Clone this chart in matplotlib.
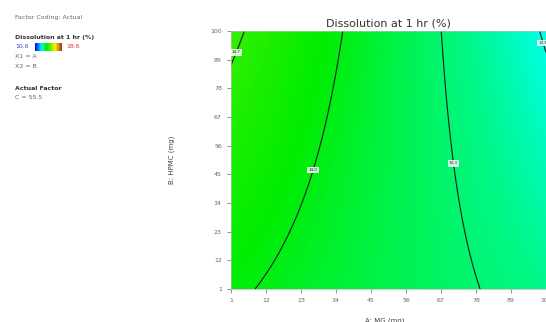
import numpy as np
import matplotlib.pyplot as plt
from matplotlib.colors import LinearSegmentedColormap, Normalize

# quadratic response surface, coded units (a, b in -1..1)
coef_names = ['const', 'A', 'B', 'AB', 'A^2', 'B^2']
coef = [13.63, -0.805, 0.045, -0.315, 0.0, 0.0]
levels = [12.6, 13.3, 14.0, 14.7]
a_ticks = [1, 12, 23, 34, 45, 56, 67, 78, 89, 100]
b_ticks = [1, 12, 23, 34, 45, 56, 67, 78, 89, 100]
resp_min, resp_max = 10.6, 18.6

cmap = LinearSegmentedColormap.from_list('de', [
    (0.00, (0.0, 0.0, 1.0)),
    (0.24, (0.0, 1.0, 0.94)),
    (0.31, (0.0, 0.97, 0.55)),
    (0.38, (0.0, 0.95, 0.27)),
    (0.44, (0.0, 0.93, 0.0)),
    (0.53, (0.22, 0.94, 0.0)),
    (0.75, (1.0, 0.95, 0.0)),
    (1.00, (0.65, 0.2, 0.08)),
])
norm = Normalize(resp_min, resp_max)

A = np.linspace(1, 100, 200)
B = np.linspace(1, 100, 200)
AA, BB = np.meshgrid(A, B)
a = (AA - 50.5) / 49.5
b = (BB - 50.5) / 49.5
Z = (coef[0] + coef[1] * a + coef[2] * b + coef[3] * a * b
     + coef[4] * a ** 2 + coef[5] * b ** 2)

W, H = 546, 322
fig = plt.figure(figsize=(W / 100, H / 100), dpi=100)
ax = fig.add_axes([231 / W, 1 - 289 / H, 315 / W, 258 / H])

ax.pcolormesh(A, B, Z, cmap=cmap, norm=norm, shading='gouraud')
cs = ax.contour(A, B, Z, levels=levels, colors='#1a1a1a', linewidths=0.8)
label_pos = [(98.4, 95.2), (71.4, 49.3), (26.8, 46.7), (2.9, 91.7)]
lbls = ax.clabel(cs, fmt='%.1f', fontsize=3, manual=label_pos, inline=False)
for t in lbls:
    t.set_rotation(0)
    t.set_bbox(dict(boxstyle='square,pad=0.3', fc='white', ec='none', alpha=0.85))

ax.set_xlim(1, 100)
ax.set_ylim(1, 100)
ax.set_xticks(a_ticks)
ax.set_yticks(b_ticks)
ax.tick_params(labelsize=4.5, colors='#666666', length=3, width=0.5)
for s in ax.spines.values():
    s.set_color('#bbbbbb')
    s.set_linewidth(0.5)

ax.set_title('Dissolution at 1 hr (%)', fontsize=8, color='#333333', pad=3)
ax.set_xlabel('A: MG (mg)', fontsize=5, color='#444444')
ax.xaxis.set_label_coords(0.489, -0.112)
ax.set_ylabel('B: HPMC (mg)', fontsize=5, color='#444444')
ax.yaxis.set_label_coords(-0.178, 0.5)

# legend block on the left
def ftext(x, y, s, **kw):
    fig.text(x / W, 1 - y / H, s, va='center', ha='left', fontsize=4.5, **kw)

ftext(15, 17, 'Factor Coding: Actual', color='#666666')
ftext(15, 38, 'Dissolution at 1 hr (%)', color='#333333', fontweight='bold')
ftext(15, 47, '10.6', color='#3344cc')
ftext(66, 47, '18.6', color='#dd3333')
ftext(15, 57, 'X1 = A', color='#666666')
ftext(15, 66, 'X2 = B', color='#666666')
ftext(15, 88, 'Actual Factor', color='#333333', fontweight='bold')
ftext(15, 97, 'C = 55.5', color='#666666')

cax = fig.add_axes([35 / W, 1 - 51 / H, 27 / W, 8 / H])
cax.imshow(np.linspace(0, 1, 100)[None, :], aspect='auto', cmap=cmap)
cax.set_axis_off()

fig.savefig('out.png', dpi=100)
